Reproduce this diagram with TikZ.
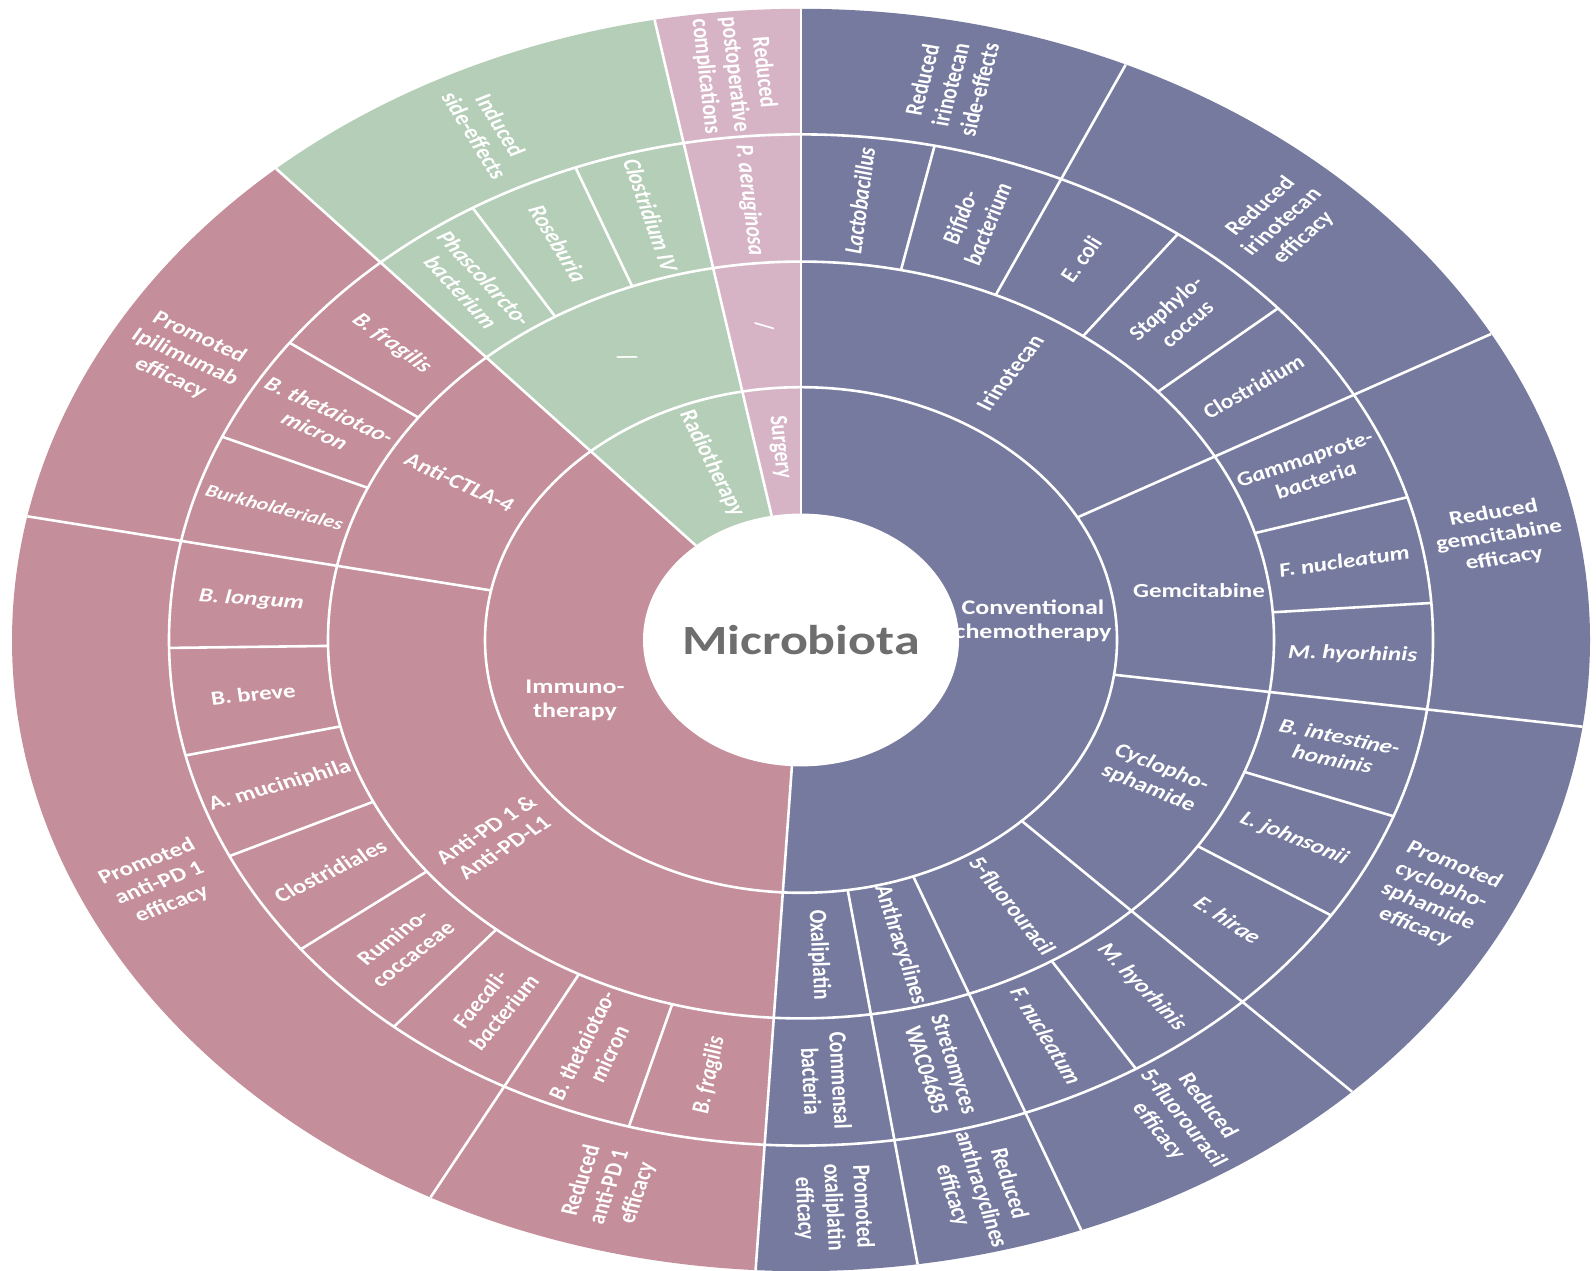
\documentclass[tikz,border=0pt]{standalone}
\usepackage{fontspec}
\setmainfont{Carlito}
\definecolor{cP}{HTML}{767A9E}
\definecolor{cI}{HTML}{C48E9B}
\definecolor{cG}{HTML}{B4CEB7}
\definecolor{cS}{HTML}{D6B4C6}
\definecolor{cT}{HTML}{6E6E6E}
\newcommand\sect[5]{\fill[#5] (#1:#3) arc[start angle=#1, end angle=#2, radius=#3] -- (#2:#4) arc[start angle=#2, end angle=#1, radius=#4] -- cycle;}
\tikzset{
 wl/.style={draw=white, line width=2.6pt},
 lab/.style={text=white, align=center, inner sep=0pt, transform shape, font=\bfseries\fontsize{25}{29}\selectfont},
 labi/.style={lab, font=\bfseries\itshape\fontsize{25}{29}\selectfont},
}
\begin{document}
\begin{tikzpicture}[x=1pt,y=1pt]
\useasboundingbox (0,0) rectangle (1596,1271);
\fill[white] (0,0) rectangle (1596,1271);
\begin{scope}[shift={(801,631)}, yscale=0.8]
\sect{-93.3}{90}{150}{789}{cP}
\sect{90}{100.7}{150}{789}{cS}
\sect{100.7}{131.7}{150}{789}{cG}
\sect{131.7}{266.7}{150}{789}{cI}
\fill[white] (0,0) circle[radius=158];
\foreach \r in {316,473,632} \draw[wl] (0,0) circle[radius=\r];
\foreach \a in {90,100.7,131.7,266.7} \draw[wl] (\a:158) -- (\a:789);
\foreach \a in {29,-7.9,-45.7,-69.2,-81.5,168.7} \draw[wl] (\a:316) -- (\a:789);
\foreach \a in {65.7,242} \draw[wl] (\a:473) -- (\a:789);
\foreach \a in {77.8,53.4,41,16.4,4.2,-20.4,-33,-58,144,156.3,180.9,193.2,205.3,217.7,229.9,254.2,110.9,121.3} \draw[wl] (\a:473) -- (\a:632);
% centre
\node[transform shape, text=cT, inner sep=0pt, font=\bfseries\fontsize{52}{58}\selectfont] (mb) at (0,0) {Microbiota};
% ring 1
\node[lab, font=\bfseries\fontsize{26}{30}\selectfont] (t1) at (232,24) {Conventional\\chemotherapy};
\node[lab, font=\bfseries\fontsize{26}{30}\selectfont] (t2) at (-226,-75) {Immuno-\\therapy};
\node[lab, rotate=-68] (t3) at (112:238) {Radiotherapy};
\node[lab, rotate=-85] (t4) at (95:242) {Surgery};
% ring 2
\node[lab, rotate=58] (d1) at (58:394) {Irinotecan};
\node[lab] (d2) at (398,62) {Gemcitabine};
\node[lab, rotate=-27] (d3) at (-26:394) {Cyclopho-\\sphamide};
\node[lab, rotate=-57.5] (d4) at (-57.5:394) {5-fluorouracil};
\node[lab, rotate=-75.35] (d5) at (-75.35:394) {Anthracyclines};
\node[lab, rotate=-87.4] (d6) at (-87.4:394) {Oxaliplatin};
\node[lab, rotate=-30] (d7) at (150:394) {Anti-CTLA-4};
\node[lab, rotate=39] (d8) at (219:394) {Anti-PD 1 \&\\Anti-PD-L1};
\node[lab, rotate=-63.8] (d9) at (116.2:394) {/};
\node[lab, rotate=-84.65] (d10) at (95.35:394) {/};
% ring 3 chemo
\node[labi, rotate=83.9] (b1) at (83.9:552) {Lactobacillus};
\node[labi, rotate=71.75] (b2) at (71.75:552) {Bifido-\\bacterium};
\node[labi, rotate=59.55] (b3) at (59.55:552) {E. coli};
\node[labi, rotate=47.2] (b4) at (47.2:552) {Staphylo-\\coccus};
\node[labi, rotate=35] (b5) at (35:552) {Clostridium};
\node[labi, rotate=22.7] (b6) at (22.7:552) {Gammaprote-\\bacteria};
\node[labi, rotate=10.3] (b7) at (10.3:552) {F. nucleatum};
\node[labi, rotate=-1.85] (b8) at (-1.85:552) {M. hyorhinis};
\node[labi, rotate=-14.15] (b9) at (-14.15:552) {B. intestine-\\hominis};
\node[labi, rotate=-26.7] (b10) at (-26.7:552) {L. johnsonii};
\node[labi, rotate=-39.35] (b11) at (-39.35:552) {E. hirae};
\node[labi, rotate=-51.85] (b12) at (-51.85:552) {M. hyorhinis};
\node[labi, rotate=-63.6] (b13) at (-63.6:552) {F. nucleatum};
\node[lab, rotate=-75.35] (b14) at (-75.35:552) {Stretomyces\\WAC04685};
\node[lab, rotate=-87.4] (b15) at (-87.4:552) {Commensal\\bacteria};
% ring 3 immuno
\node[labi, rotate=80.45] (b16) at (260.45:552) {B. fragilis};
\node[labi, rotate=68.1] (b17) at (248.1:552) {B. thetaiotao-\\micron};
\node[labi, rotate=55.95] (b18) at (235.95:552) {Faecali-\\bacterium};
\node[lab, rotate=43.8] (b19) at (223.8:552) {Rumino-\\coccaceae};
\node[lab, rotate=31.5] (b20) at (211.5:552) {Clostridiales};
\node[lab, rotate=19.25] (b21) at (199.25:552) {A. muciniphila};
\node[lab, rotate=7.05] (b22) at (187.05:552) {B. breve};
\node[labi, rotate=-5.2] (b23) at (174.8:552) {B. longum};
\node[labi, rotate=-17.5, font=\bfseries\itshape\fontsize{22}{26}\selectfont] (b24) at (162.5:552) {Burkholderiales};
\node[labi, rotate=-29.85] (b25) at (150.15:552) {B. thetaiotao-\\micron};
\node[labi, rotate=-42.15] (b26) at (137.85:552) {B. fragilis};
% ring 3 radio / surgery
\node[labi, rotate=-53.5] (b27) at (126.5:552) {Phascolarcto-\\bacterium};
\node[labi, rotate=-63.9] (b28) at (116.1:552) {Roseburia};
\node[labi, rotate=-74.2] (b29) at (105.8:552) {Clostridium IV};
\node[labi, rotate=-84.65] (b30) at (95.35:552) {P. aeruginosa};
% ring 4
\node[lab, rotate=77.85] (e1) at (77.85:710) {Reduced\\irinotecan\\side-effects};
\node[lab, rotate=47.35] (e2) at (47.35:710) {Reduced\\irinotecan\\efficacy};
\node[lab, rotate=10.55] (e3) at (10.55:710) {Reduced\\gemcitabine\\efficacy};
\node[lab, rotate=-26.8] (e4) at (-26.8:710) {Promoted\\cyclopho-\\sphamide\\efficacy};
\node[lab, rotate=-57.45] (e5) at (-57.45:710) {Reduced\\5-fluorouracil\\efficacy};
\node[lab, rotate=-75.35] (e6) at (-75.35:710) {Reduced\\anthracyclines\\efficacy};
\node[lab, rotate=-87.4] (e7) at (-87.4:710) {Promoted\\oxaliplatin\\efficacy};
\node[lab, rotate=74.35] (e8) at (254.35:710) {Reduced\\anti-PD 1\\efficacy};
\node[lab, rotate=25.35] (e9) at (205.35:710) {Promoted\\anti-PD 1\\efficacy};
\node[lab, rotate=-29.8] (e10) at (150.2:710) {Promoted\\Ipilimumab\\efficacy};
\node[lab, rotate=-63.8] (e11) at (116.2:710) {Induced\\side-effects};
\node[lab, rotate=-84.65] (e12) at (95.35:710) {Reduced\\postoperative\\complications};
\end{scope}
\end{tikzpicture}
\end{document}
